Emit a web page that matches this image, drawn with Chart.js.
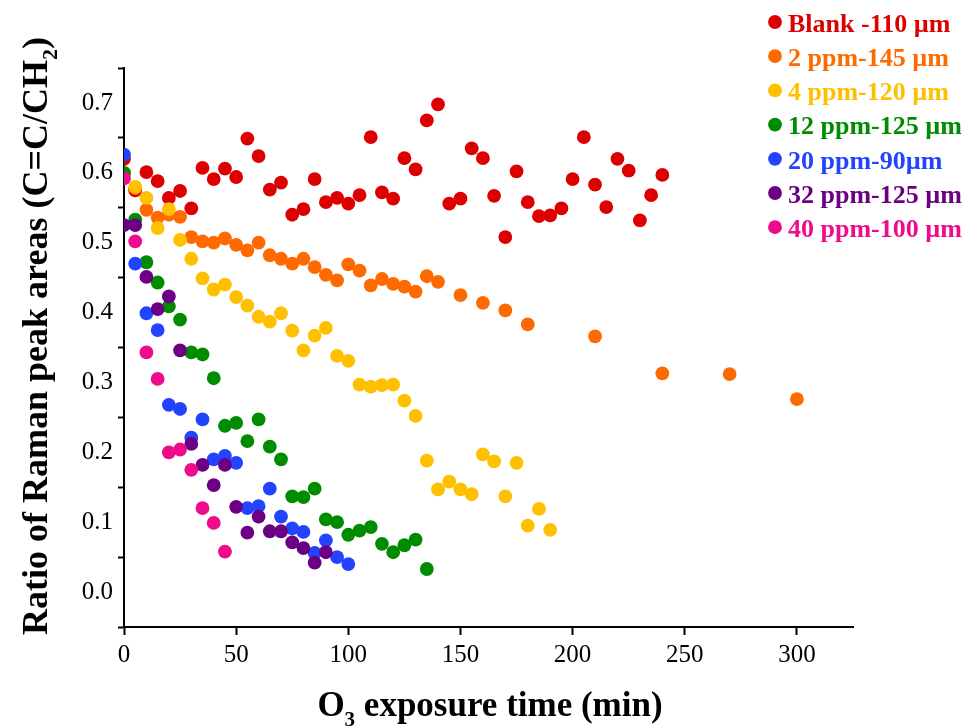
<!DOCTYPE html>
<html><head><meta charset="utf-8">
<script src="https://cdn.jsdelivr.net/npm/chart.js@4/dist/chart.umd.min.js"></script>
<style>html,body{margin:0;padding:0;background:#fff}#wrap{width:966px;height:727px;position:relative}canvas{display:block}</style>
</head><body><div id="wrap"><canvas id="c" width="966" height="727"></canvas></div>
<script>
// ---- data ----
const seriesLabels = ['Blank -110 µm','2 ppm-145 µm','4 ppm-120 µm','12 ppm-125 µm','20 ppm-90µm','32 ppm-125 µm','40 ppm-100 µm'];
const seriesColors = ['#DD0000','#FF6A00','#FFC000','#008C00','#2244FF','#6B0085','#EE0C8C'];

const blankTime = [0,5,10,15,20,25,30,35,40,45,50,55,60,65,70,75,80,85,90,95,100,105,110,115,120,125,130,135,140,145,150,155,160,165,170,175,180,185,190,195,200,205,210,215,220,225,230,235,240];
const blankVal  = [0.620,0.575,0.601,0.588,0.564,0.574,0.549,0.607,0.591,0.606,0.594,0.649,0.624,0.576,0.586,0.540,0.548,0.591,0.558,0.564,0.556,0.568,0.651,0.572,0.563,0.621,0.605,0.675,0.698,0.556,0.563,0.635,0.621,0.567,0.508,0.602,0.558,0.538,0.539,0.549,0.591,0.651,0.583,0.551,0.620,0.603,0.532,0.568,0.597];

const ppm2Time = [0,5,10,15,20,25,30,35,40,45,50,55,60,65,70,75,80,85,90,95,100,105,110,115,120,125,130,135,140,150,160,170,180,210,240,270,300];
const ppm2Val  = [0.600,0.578,0.547,0.536,0.540,0.537,0.508,0.502,0.500,0.506,0.497,0.489,0.500,0.482,0.477,0.470,0.477,0.465,0.454,0.446,0.469,0.460,0.439,0.448,0.441,0.437,0.430,0.452,0.444,0.425,0.414,0.403,0.383,0.366,0.313,0.312,0.276];

const ppm4Time = [0,5,10,15,20,25,30,35,40,45,50,55,60,65,70,75,80,85,90,95,100,105,110,115,120,125,130,135,140,145,150,155,160,165,170,175,180,185,190];
const ppm4Val  = [0.600,0.580,0.564,0.521,0.548,0.504,0.477,0.449,0.433,0.440,0.422,0.410,0.394,0.387,0.399,0.374,0.346,0.367,0.378,0.338,0.331,0.297,0.294,0.296,0.297,0.274,0.252,0.188,0.147,0.158,0.147,0.140,0.197,0.187,0.137,0.185,0.095,0.119,0.089];

const ppm12Time = [0,5,10,15,20,25,30,35,40,45,50,55,60,65,70,75,80,85,90,95,100,105,110,115,120,125,130,135];
const ppm12Val  = [0.600,0.533,0.472,0.443,0.409,0.390,0.343,0.340,0.306,0.238,0.242,0.216,0.247,0.208,0.190,0.137,0.136,0.148,0.104,0.100,0.082,0.088,0.093,0.069,0.057,0.067,0.075,0.033];

const ppm20Time = [0,5,10,15,20,25,30,35,40,45,50,55,60,65,70,75,80,85,90,95,100];
const ppm20Val  = [0.626,0.470,0.399,0.375,0.268,0.262,0.221,0.247,0.190,0.195,0.185,0.120,0.123,0.148,0.108,0.091,0.086,0.056,0.074,0.050,0.040];

const ppm32Time = [0,5,10,15,20,25,30,35,40,45,50,55,60,65,70,75,80,85,90];
const ppm32Val  = [0.525,0.525,0.451,0.405,0.423,0.346,0.212,0.182,0.153,0.182,0.122,0.085,0.108,0.087,0.087,0.071,0.063,0.042,0.057];

const ppm40Time = [0,5,10,15,20,25,30,35,40,45];
const ppm40Val  = [0.592,0.502,0.343,0.305,0.200,0.204,0.175,0.120,0.099,0.058];

const xTickValues = [0,50,100,150,200,250,300];
const yTickValues = [-0.05,0.0,0.05,0.1,0.15,0.2,0.25,0.3,0.35,0.4,0.45,0.5,0.55,0.6,0.65,0.7,0.75];
const yTickLabels = ['0.0','0.1','0.2','0.3','0.4','0.5','0.6','0.7'];

// ---- build ----
const allTimes = [blankTime,ppm2Time,ppm4Time,ppm12Time,ppm20Time,ppm32Time,ppm40Time];
const allVals  = [blankVal,ppm2Val,ppm4Val,ppm12Val,ppm20Val,ppm32Val,ppm40Val];
const datasets = seriesLabels.map((lab,i)=>({
  label: lab,
  data: allTimes[i].map((t,j)=>({x:t,y:allVals[i][j]})),
  backgroundColor: seriesColors[i],
  borderColor: seriesColors[i],
  borderWidth: 0,
  pointRadius: 6.9,
  pointHoverRadius: 6.9,
  showLine: false,
  order: 10 - i,
  clip: {left:0, right:false, top:false, bottom:false}
}));

const SERIF = '"Liberation Serif", "Times New Roman", serif';

function drawRich(ctx, parts, cx, y, size) {
  const main = 'bold ' + size + 'px ' + SERIF;
  const sub = 'bold ' + Math.round(size*0.6) + 'px ' + SERIF;
  let total = 0;
  parts.forEach(p=>{ ctx.font = p[1]?sub:main; total += ctx.measureText(p[0]).width; });
  let x = cx - total/2;
  ctx.textAlign = 'left';
  ctx.textBaseline = 'alphabetic';
  parts.forEach(p=>{ ctx.font = p[1]?sub:main; ctx.fillText(p[0], x, p[1] ? y + size*0.28 : y); x += ctx.measureText(p[0]).width; });
}

const decor = {
  id: 'decor',
  afterDraw(chart) {
    const ctx = chart.ctx;
    ctx.save();
    ctx.fillStyle = '#000';
    // x title
    drawRich(ctx, [['O',false],['3',true],[' exposure time (min)',false]], 490, 716, 35);
    // y title
    ctx.save();
    ctx.translate(47, 336);
    ctx.rotate(-Math.PI/2);
    drawRich(ctx, [['Ratio of Raman peak areas (C=C/CH',false],['2',true],[')',false]], 0, 0, 36);
    ctx.restore();
    // legend
    seriesLabels.forEach((lab,i)=>{
      const y = 22 + 34.2*i;
      ctx.fillStyle = seriesColors[i];
      ctx.beginPath(); ctx.arc(775, y, 6.9, 0, Math.PI*2); ctx.fill();
      ctx.font = 'bold 26px ' + SERIF;
      ctx.textAlign = 'left'; ctx.textBaseline = 'middle';
      ctx.fillText(lab, 788, y + 3);
    });
    ctx.restore();
  }
};

const isLabelled = v => yTickLabels.includes(v.toFixed(1)) && Math.abs(Math.round(v*100)) % 10 === 0;

new Chart(document.getElementById('c'), {
  type: 'scatter',
  data: { datasets },
  options: {
    responsive: false,
    animation: false,
    devicePixelRatio: 1,
    layout: { padding: { top: 68, right: 113, left: 0, bottom: 0 } },
    plugins: { legend: { display: false }, tooltip: { enabled: false } },
    scales: {
      x: {
        type: 'linear', min: 0, max: 325,
        afterBuildTicks: s => { s.ticks = xTickValues.map(v=>({value:v})); },
        afterFit: s => { s.height = 100; },
        border: { display: true, color: '#000', width: 2 },
        grid: { display: true, drawOnChartArea: false, drawTicks: true, tickLength: 8, tickColor: '#000', tickWidth: 2 },
        ticks: { color: '#000', font: { family: SERIF, size: 25 }, padding: 5, maxRotation: 0, autoSkip: false }
      },
      y: {
        type: 'linear', min: -0.05, max: 0.75,
        afterBuildTicks: s => { s.ticks = yTickValues.map(v=>({value:v})); },
        afterFit: s => { s.width = 124; },
        border: { display: true, color: '#000', width: 2 },
        grid: { display: true, drawOnChartArea: false, drawTicks: true, tickLength: 6, tickWidth: 2,
                tickColor: c => (c.tick && isLabelled(c.tick.value)) ? 'rgba(0,0,0,0)' : '#000' },
        ticks: { color: '#000', font: { family: SERIF, size: 25 }, padding: 5, autoSkip: false,
                 callback: v => isLabelled(v) ? v.toFixed(1) : '' }
      }
    }
  },
  plugins: [decor]
});
</script>
</body></html>
